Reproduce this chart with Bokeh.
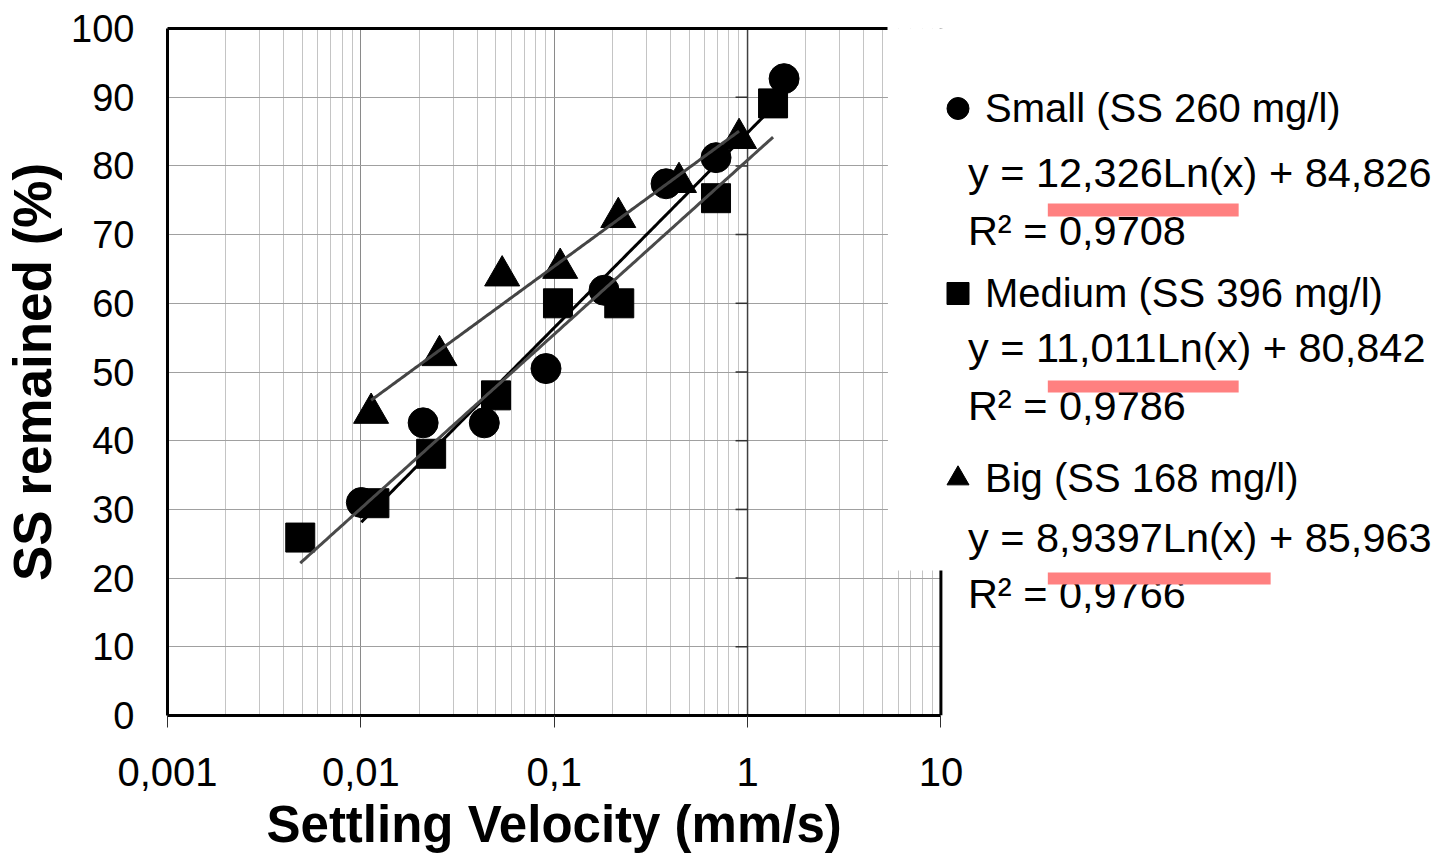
from bokeh.plotting import figure
from bokeh.models import (FixedTicker, LinearAxis, Legend, LegendItem, Label,
                          BoxAnnotation, Span, Title)
from bokeh.embed import file_html
from bokeh.resources import INLINE
import numpy as np

# ---------------- data ----------------
small_x = [0.01006, 0.021, 0.0435, 0.0907, 0.181, 0.379, 0.687, 1.545]
small_y = [31.0, 42.6, 42.6, 50.5, 61.9, 77.4, 81.2, 92.7]
medium_x = [0.00486, 0.01175, 0.0231, 0.050, 0.1046, 0.217, 0.687, 1.355]
medium_y = [25.9, 30.9, 38.1, 46.6, 60.0, 60.0, 75.3, 89.1]
big_x = [0.0113, 0.0255, 0.0538, 0.1074, 0.2145, 0.442, 0.904]
big_y = [44.0, 52.4, 64.0, 65.1, 72.5, 77.6, 84.0]

series_names = ["Small (SS 260 mg/l)", "Medium (SS 396 mg/l)", "Big (SS 168 mg/l)"]
slopes = ["12.326", "11.011", "8.9397"]
intercepts = ["84.826", "80.842", "85.963"]
r_squared = ["0.9708", "0.9786", "0.9766"]

x_ticks = [0.001, 0.01, 0.1, 1, 10]
x_tick_labels = ["0,001", "0,01", "0,1", "1", "10"]
y_ticks = [0, 10, 20, 30, 40, 50, 60, 70, 80, 90, 100]
y_axis_cross = 1  # vertical axis crosses x at 1 (Excel log default)
x_title = "Settling Velocity (mm/s)"
y_title = "SS remained (%)"

# ---------------- layout (page pixels) ----------------
W, H = 1453, 858
FL, FR, FT, FB = 166, 940, 28, 715          # plot area of the chart
BOX_L, BOX_B = 887, 570                     # white legend box edges
FONT = "Liberation Sans"
x_lo, x_hi = x_ticks[0], x_ticks[-1]
px_dec = (FR - FL) / (np.log10(x_hi) - np.log10(x_lo))


def xd(px):
    return 10 ** ((px - FL) / px_dec + np.log10(x_lo))


def yd(py):
    return (FB - py) / (FB - FT) * 100.0


# the frame runs to the right edge of the page so that the legend can be drawn in it
p = figure(width=W, height=H, x_axis_type="log", x_range=(x_lo, xd(W)), y_range=(0, 100),
           output_backend="svg", toolbar_location=None,
           min_border_left=FL, min_border_right=0, min_border_top=FT,
           min_border_bottom=H - FB, outline_line_color=None,
           background_fill_color="white", border_fill_color="white")

x_minor = [m * t for t in x_ticks[:-1] for m in range(2, 10)]
xticker = FixedTicker(ticks=x_ticks, minor_ticks=x_minor)
yticker = FixedTicker(ticks=y_ticks)

p.xaxis.ticker = xticker
p.xaxis.bounds = (x_lo, x_hi)
p.xaxis.major_label_overrides = dict(zip([float(t) for t in x_ticks], x_tick_labels))
p.xaxis.major_tick_out = 12
p.xaxis.major_tick_in = 0
p.xaxis.minor_tick_out = 0
p.xaxis.minor_tick_in = 0
p.xaxis.major_tick_line_color = "#303030"
p.xaxis.axis_line_width = 3
p.xaxis.axis_line_color = "black"
p.xaxis.major_label_text_font = FONT
p.xaxis.major_label_text_font_size = "40px"
p.xaxis.major_label_text_color = "black"
p.xaxis.major_label_standoff = 30

p.yaxis.ticker = yticker
p.yaxis.major_tick_out = 0
p.yaxis.major_tick_in = 0
p.yaxis.minor_tick_out = 0
p.yaxis.minor_tick_in = 0
p.yaxis.axis_line_width = 3
p.yaxis.axis_line_color = "black"
p.yaxis.major_label_text_font = FONT
p.yaxis.major_label_text_font_size = "38px"
p.yaxis.major_label_text_color = "black"
p.yaxis.major_label_standoff = 33
p.yaxis.axis_label = y_title
p.yaxis.axis_label_text_font = FONT
p.yaxis.axis_label_text_font_size = "53px"
p.yaxis.axis_label_text_font_style = "bold"
p.yaxis.axis_label_text_color = "black"
p.yaxis.axis_label_standoff = 6

# x title centred under the plot area (not under the whole frame)
p.add_layout(Title(text=x_title, align="left", offset=99, standoff=11,
                   text_font=FONT, text_font_size="51px", text_font_style="bold",
                   text_color="black"), "below")

p.xgrid.ticker = xticker
p.xgrid.grid_line_color = "#8a8a8a"
p.xgrid.minor_grid_line_color = "#c4c4c4"
p.ygrid.ticker = yticker
p.ygrid.grid_line_color = "#a0a0a0"

# top border of the plot area, stopping at the legend box
top_ax = LinearAxis(ticker=FixedTicker(ticks=[]), bounds=(x_lo, xd(BOX_L)),
                    axis_line_width=3, axis_line_color="black",
                    major_tick_out=0, major_tick_in=0, minor_tick_out=0, minor_tick_in=0,
                    major_label_text_font_size="0px")
p.add_layout(top_ax, "above")

# white page right of the plot area, right border, white legend box over the corner
p.add_layout(BoxAnnotation(left=x_hi, fill_color="white", fill_alpha=1.0, line_color=None,
                           level="underlay"))
p.add_layout(Span(location=x_hi, dimension="height", line_color="black", line_width=3,
                  level="underlay"))
p.add_layout(BoxAnnotation(left=xd(BOX_L), bottom=yd(BOX_B), fill_color="white",
                           fill_alpha=1.0, line_color=None, level="underlay"))

# vertical axis line crossing at x = 1, with short ticks to the left
p.add_layout(Span(location=y_axis_cross, dimension="height", line_color="#404040",
                  line_width=1.5, level="underlay"))
tick_len = 12
p.scatter([y_axis_cross * 10 ** (-(tick_len / 2) / px_dec)] * (len(y_ticks) - 2), y_ticks[1:-1],
          marker="dash", size=tick_len, line_color="#303030", line_width=1.5)

# markers
r_small = p.scatter(small_x, small_y, marker="circle", size=30, fill_color="black",
                    line_color="black")
r_medium = p.scatter(medium_x, medium_y, marker="square", size=29, fill_color="black",
                     line_color="black")
r_big = p.scatter(big_x, big_y, marker="triangle", size=35, fill_color="black",
                  line_color="black")

# logarithmic trend lines from the stated coefficients
line_colors = ["#000000", "#4a4a4a", "#444444"]
for xs, a, b, c in zip([small_x, medium_x, big_x], slopes, intercepts, line_colors):
    xx = np.logspace(np.log10(min(xs)), np.log10(max(xs)), 200)
    yy = float(a) * np.log(xx) + float(b)
    p.line(xx, yy, line_color=c, line_width=3)

# legend (transparent; the white box above already hides the plot corner)
legend = Legend(items=[LegendItem(label=n, renderers=[r])
                       for n, r in zip(series_names, [r_small, r_medium, r_big])],
                location=(929 - FL, FB - 528), orientation="vertical",
                padding=0, spacing=85, margin=0,
                glyph_width=55, glyph_height=100, label_height=100, label_standoff=0,
                label_text_font=FONT, label_text_font_size="40px", label_text_color="black",
                background_fill_alpha=0.0, border_line_color=None)
p.add_layout(legend)

eq_base = [172, 347, 537]
r2_base = [230, 405, 593]
for a, b, r2, ye, yr in zip(slopes, intercepts, r_squared, eq_base, r2_base):
    eq = ("y = " + a + "Ln(x) + " + b).replace(".", ",")
    p.add_layout(Label(x=xd(967), y=yd(ye), text=eq,
                       text_font=FONT, text_font_size="41.5px", text_color="black",
                       text_baseline="alphabetic"))
    p.add_layout(Label(x=xd(967), y=yd(yr), text="R² = " + r2.replace(".", ","),
                       text_font=FONT, text_font_size="41.5px", text_color="black",
                       text_baseline="alphabetic"))

# pink marks over the R² lines
for top, bottom, right in [(203, 216, 1238), (380, 392, 1238), (572, 584, 1270)]:
    p.add_layout(BoxAnnotation(left=xd(1047), right=xd(right), top=yd(top), bottom=yd(bottom),
                               fill_color="#ff8080", fill_alpha=1.0, line_color=None))

open("out.html", "w").write(file_html(p, INLINE))
